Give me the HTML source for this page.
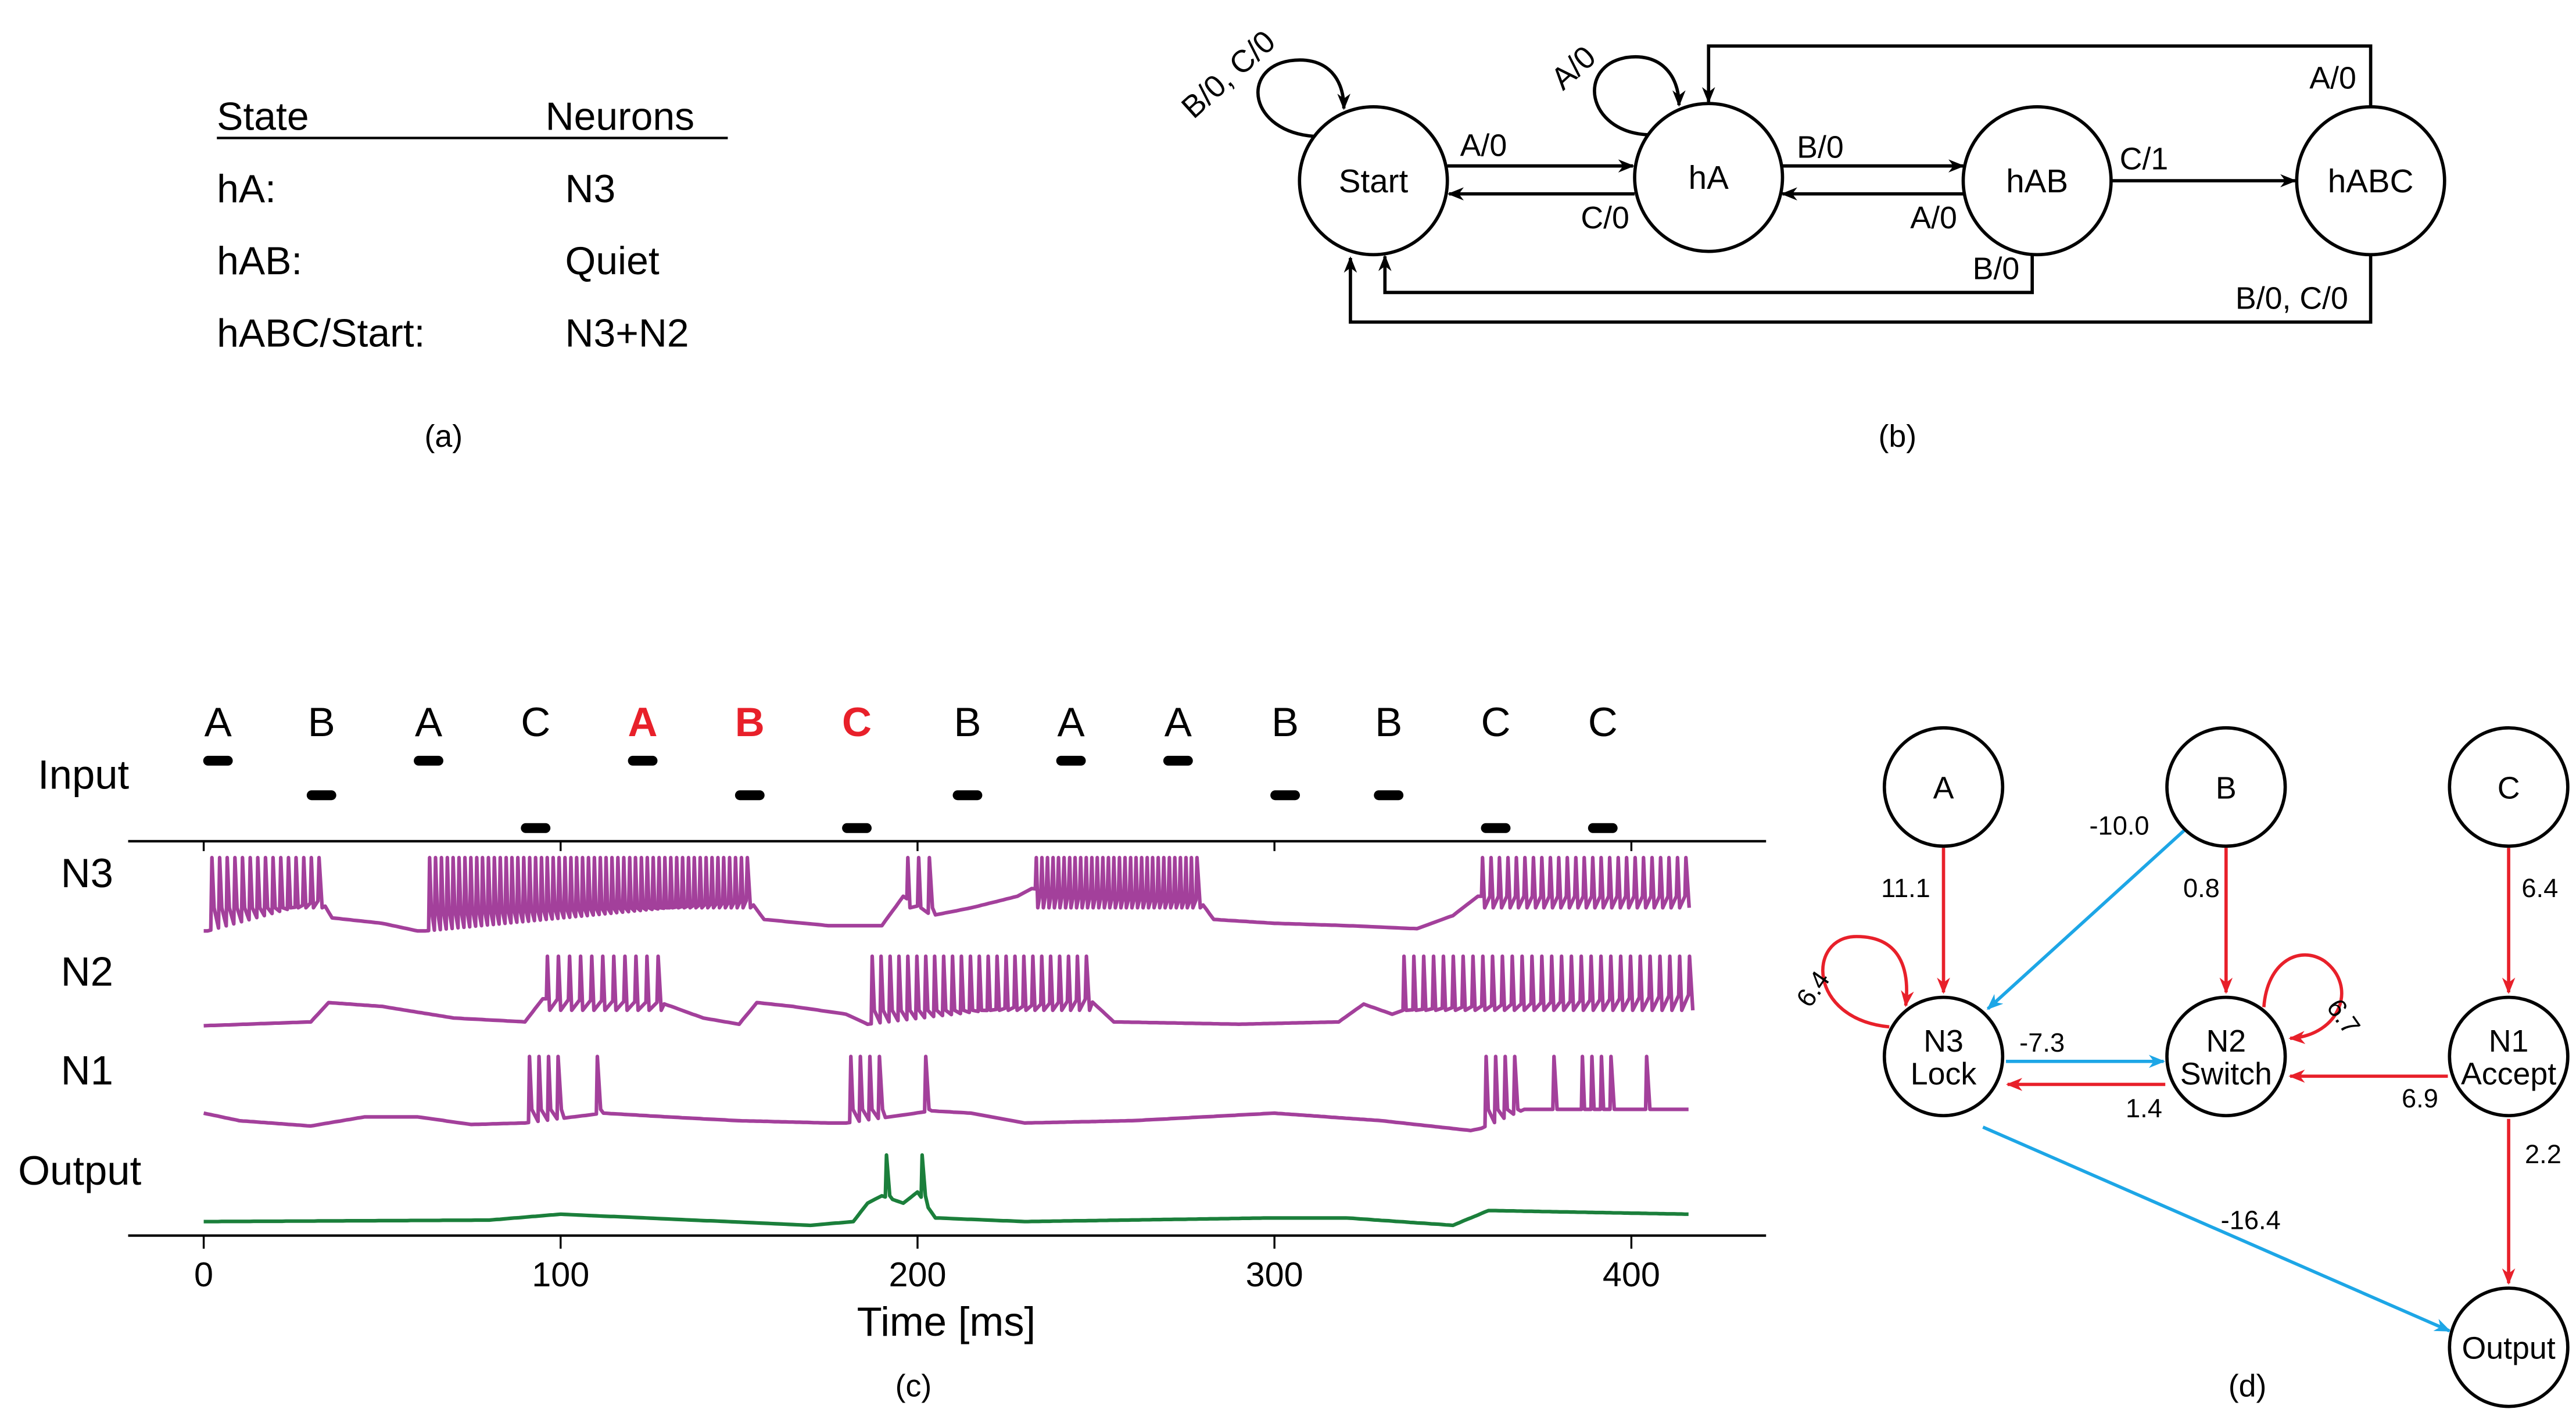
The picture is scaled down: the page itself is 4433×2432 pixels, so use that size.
<!DOCTYPE html>
<html><head><meta charset="utf-8">
<style>
html,body{margin:0;padding:0;background:#fff;}
svg{display:block;font-family:"Liberation Sans",Arial,sans-serif;}
</style></head>
<body>
<svg id="fig" width="4433" height="2432" viewBox="0 0 1568 860" preserveAspectRatio="none" xmlns="http://www.w3.org/2000/svg">
<defs>
<marker id="ak" markerWidth="10" markerHeight="8" refX="9" refY="4" orient="auto" markerUnits="userSpaceOnUse"><path d="M0,0 L10,4 L0,8 L3,4 z" fill="#000"/></marker>
<marker id="ar" markerWidth="10" markerHeight="8" refX="9" refY="4" orient="auto" markerUnits="userSpaceOnUse"><path d="M0,0 L10,4 L0,8 L3,4 z" fill="#e8202a"/></marker>
<marker id="ab" markerWidth="10" markerHeight="8" refX="9" refY="4" orient="auto" markerUnits="userSpaceOnUse"><path d="M0,0 L10,4 L0,8 L3,4 z" fill="#1da6e6"/></marker>
</defs>

<!-- Panel (a) -->
<g font-size="24" fill="#000">
<text x="132" y="79">State</text>
<text x="332" y="79">Neurons</text>
<line x1="132" y1="84" x2="443" y2="84" stroke="#000" stroke-width="1.5"/>
<text x="132" y="123">hA:</text>
<text x="344" y="123">N3</text>
<text x="132" y="167">hAB:</text>
<text x="344" y="167">Quiet</text>
<text x="132" y="211">hABC/Start:</text>
<text x="344" y="211">N3+N2</text>
<text x="270" y="272" font-size="19" text-anchor="middle">(a)</text>
</g>

<!-- Panel (b) -->
<g fill="none" stroke="#000" stroke-width="2">
<circle cx="836" cy="110" r="45"/>
<circle cx="1040" cy="108" r="45"/>
<circle cx="1240" cy="110" r="45"/>
<circle cx="1443" cy="110" r="45"/>
<path d="M800,83 C760,80 755,42 785,37 C805,34 818,45 818,66" marker-end="url(#ak)"/>
<path d="M1003,82 C965,80 960,40 990,35 C1010,32 1022,45 1022,64" marker-end="url(#ak)"/>
<line x1="881" y1="101" x2="994" y2="101" marker-end="url(#ak)"/>
<line x1="995" y1="118" x2="882" y2="118" marker-end="url(#ak)"/>
<line x1="1085" y1="101" x2="1195" y2="101" marker-end="url(#ak)"/>
<line x1="1195" y1="118" x2="1085" y2="118" marker-end="url(#ak)"/>
<line x1="1285" y1="110" x2="1397" y2="110" marker-end="url(#ak)"/>
<path d="M1237,155 L1237,178 L843,178 L843,156" marker-end="url(#ak)"/>
<path d="M1443,155 L1443,196 L822,196 L822,157" marker-end="url(#ak)"/>
<path d="M1443,65 L1443,28 L1040,28 L1040,62" marker-end="url(#ak)"/>
</g>
<g font-size="19" fill="#000">
<text x="836" y="117" text-anchor="middle" font-size="20">Start</text>
<text x="1040" y="115" text-anchor="middle" font-size="20">hA</text>
<text x="1240" y="117" text-anchor="middle" font-size="20">hAB</text>
<text x="1443" y="117" text-anchor="middle" font-size="20">hABC</text>
<text x="752" y="50" transform="rotate(-42 752 50)" text-anchor="middle">B/0, C/0</text>
<text x="962" y="46" transform="rotate(-42 962 46)" text-anchor="middle">A/0</text>
<text x="903" y="95" text-anchor="middle">A/0</text>
<text x="977" y="139" text-anchor="middle">C/0</text>
<text x="1108" y="96" text-anchor="middle">B/0</text>
<text x="1177" y="139" text-anchor="middle">A/0</text>
<text x="1305" y="103" text-anchor="middle">C/1</text>
<text x="1215" y="170" text-anchor="middle">B/0</text>
<text x="1395" y="188" text-anchor="middle">B/0, C/0</text>
<text x="1420" y="54" text-anchor="middle">A/0</text>
<text x="1155" y="272" text-anchor="middle">(b)</text>
</g>

<!-- Panel (c) -->
<g id="traces"></g>

<!-- Panel (d) -->
<g id="net"></g>
</svg>

<script>
var NS="http://www.w3.org/2000/svg";
var svg=document.getElementById('fig');
function mk(tag,attrs,parent){var e=document.createElementNS(NS,tag);for(var k in attrs)e.setAttribute(k,attrs[k]);(parent||svg).appendChild(e);return e;}

// ---------- Panel (c) data ----------
var inputLetters=["A","B","A","C","A","B","C","B","A","A","B","B","C","C"];
var inputTimes=[4,33,63,93,123,153,183,214,243,273,303,332,362,392];
var inputRed=[false,false,false,false,true,true,true,false,false,false,false,false,false,false];
var timeTicks=[0,100,200,300,400];

// bursts: [start, end, spikeCount]
var n3Bursts=[[2,32,15],[63,152,55],[197,203,3],[233,278,30],[358,415,25]];
var n2Bursts=[[96,127,11],[187,247,25],[336,416,30]];
var n1Bursts=[[91,99,4],[110,110,1],[181,189,4],[202,202,1],[359,367,4],[378,378,1],[386,394,4],[404,404,1]];
var outSpikes=[191,201];
// baselines: [time, level] with level 0 = row bottom, 1 = spike peak
var n3Base=[[0,0.05],[1,0.05],[33,0.45],[36,0.22],[50,0.15],[60,0.05],[62,0.05],[153,0.45],[157,0.2],[175,0.12],[190,0.12],[196,0.5],[204,0.25],[215,0.35],[228,0.5],[232,0.6],[279,0.45],[283,0.2],[300,0.15],[320,0.12],[340,0.08],[350,0.25],[357,0.5],[416,0.5]];
var n2Base=[[0,0.1],[30,0.15],[35,0.4],[50,0.35],[70,0.2],[90,0.15],[95,0.45],[128,0.4],[140,0.2],[150,0.12],[155,0.4],[165,0.35],[180,0.25],[186,0.12],[248,0.45],[255,0.15],[290,0.12],[318,0.15],[325,0.38],[333,0.25],[336,0.3],[416,0.5]];
var n1Base=[[0,0.25],[10,0.15],[30,0.08],[45,0.2],[60,0.2],[75,0.1],[90,0.12],[112,0.25],[130,0.2],[150,0.15],[175,0.12],[180,0.12],[204,0.28],[215,0.25],[230,0.12],[260,0.15],[300,0.25],[330,0.15],[355,0.02],[358,0.05],[370,0.3],[380,0.3],[405,0.3],[416,0.3]];
var outBase=[[0,0.1],[80,0.12],[100,0.2],[170,0.05],[182,0.1],[186,0.35],[190,0.45],[196,0.35],[200,0.5],[205,0.15],[230,0.1],[300,0.15],[320,0.15],[350,0.05],[360,0.25],[416,0.2]];

var X0=124, X1=993;
function xs(t){return X0+(X1-X0)*t/400;}
var tg=document.getElementById('traces');

var rowY={A:463,B:484,C:504};
inputLetters.forEach(function(l,i){
  var t=mk('text',{x:xs(inputTimes[i]),y:448,'font-size':25,'text-anchor':'middle',fill:inputRed[i]?'#e8202a':'#000','font-weight':inputRed[i]?'bold':'normal'},tg);
  
  
  t.textContent=l;
  var b=mk('rect',{x:xs(inputTimes[i])-9,y:rowY[l]-3,width:18,height:6,rx:3,fill:'#000'},tg);
  
  
});
function lab(txt,x,y,sz,name){var t=mk('text',{x:x,y:y,'font-size':sz,fill:'#000'},tg);t.textContent=txt;return t;}
lab('Input',23,480,25,'input-label');
lab('N3',37,540,25,'n3-label');
lab('N2',37,600,25,'n2-label');
lab('N1',37,660,25,'n1-label');
lab('Output',11,721,25,'output-label');

var ax1=mk('line',{x1:78,y1:512,x2:1075,y2:512,stroke:'#000','stroke-width':1.5},tg);


var ax2=mk('line',{x1:78,y1:752,x2:1075,y2:752,stroke:'#000','stroke-width':1.5},tg);


timeTicks.forEach(function(v){
  var tk=mk('line',{x1:xs(v),y1:752,x2:xs(v),y2:760,stroke:'#000','stroke-width':1.2},tg);
  
  
  var tk2=mk('line',{x1:xs(v),y1:512,x2:xs(v),y2:518,stroke:'#000','stroke-width':1.2},tg);
  
  
  var tl=mk('text',{x:xs(v),y:783,'font-size':21,'text-anchor':'middle',fill:'#000'},tg);
  
  
  tl.textContent=v;
});
var xt=lab('Time [ms]',576,813,25,'x-axis-title');xt.setAttribute('text-anchor','middle');
var pc=lab('(c)',556,850,19,'panel-c-label');pc.setAttribute('text-anchor','middle');

function baseAt(base,t){
  for(var i=0;i<base.length-1;i++){if(t>=base[i][0]&&t<=base[i+1][0]){var f=(t-base[i][0])/((base[i+1][0]-base[i][0])||1);return base[i][1]+f*(base[i+1][1]-base[i][1]);}}
  return base[base.length-1][1];
}
function trace(base,bursts,spikes,top,bot,trough,color,name){
  var events=[];
  bursts.forEach(function(b){var n=b[2];for(var k=0;k<n;k++){events.push(n>1?b[0]+(b[1]-b[0])*k/(n-1):b[0]);}});
  spikes.forEach(function(s){events.push(s);});
  events.sort(function(a,b){return a-b;});
  function Y(l){return bot-(bot-top)*l;}
  var pts=[];var t=0;var ei=0;
  while(t<=416){
    if(ei<events.length&&events[ei]<=t+0.5){
      var s=events[ei];
      pts.push([xs(s),Y(baseAt(base,s))]);
      pts.push([xs(s+0.3),Y(1)]);
      var next=events[ei+1];
      if(next!==undefined&&next-s<6){pts.push([xs(s+Math.min(0.9,(next-s)*0.45)),Y(trough)]);t=next-0.5;}
      else {pts.push([xs(s+1.2),Y(trough)]);t=s+2;}
      ei++;continue;
    }
    pts.push([xs(t),Y(baseAt(base,t))]);
    t+=1;
  }
  var d='M'+pts.map(function(p){return p[0].toFixed(1)+','+p[1].toFixed(1);}).join(' L');
  var p=mk('path',{d:d,fill:'none',stroke:color,'stroke-width':2.2,'stroke-linejoin':'round'},tg);
  
  
}
trace(n3Base,n3Bursts,[],522,569,0.35,'#a3409b','n3-trace');
trace(n2Base,n2Bursts,[],582,629,0.3,'#a3409b','n2-trace');
trace(n1Base,n1Bursts,[],643,689,0.3,'#a3409b','n1-trace');
trace(outBase,[],outSpikes,703,748,0.45,'#1b7f3b','output-trace');

// ---------- Panel (d) ----------
var net=document.getElementById('net');
var nodes={A:[1183,479,'A'],B:[1355,479,'B'],C:[1527,479,'C'],N3:[1183,643,'N3|Lock'],N2:[1355,643,'N2|Switch'],N1:[1527,643,'N1|Accept'],O:[1527,820,'Output']};
function edge(x1,y1,x2,y2,col,name){var l=mk('line',{x1:x1,y1:y1,x2:x2,y2:y2,stroke:col=='r'?'#e8202a':'#1da6e6','stroke-width':2,'marker-end':col=='r'?'url(#ar)':'url(#ab)'},net);}
edge(1183,516,1183,604,'r','edge-a-n3');
edge(1355,516,1355,604,'r','edge-b-n2');
edge(1527,516,1527,604,'r','edge-c-n1');
edge(1330,505,1210,614,'b','edge-b-n3');
edge(1221,646,1317,646,'b','edge-n3-n2');
edge(1318,660,1222,660,'r','edge-n2-n3');
edge(1490,655,1394,655,'r','edge-n1-n2');
edge(1527,681,1527,781,'r','edge-n1-output');
edge(1207,686,1491,810,'b','edge-n3-output');
var l1=mk('path',{d:'M1150,625 C1100,620 1100,570 1130,570 C1160,570 1162,595 1160,612',fill:'none',stroke:'#e8202a','stroke-width':2,'marker-end':'url(#ar)'},net);

var l2=mk('path',{d:'M1378,613 C1380,585 1400,575 1415,585 C1435,600 1425,630 1394,632',fill:'none',stroke:'#e8202a','stroke-width':2,'marker-end':'url(#ar)'},net);

Object.keys(nodes).forEach(function(k){
  var n=nodes[k];
  var c=mk('circle',{cx:n[0],cy:n[1],r:36,fill:'#fff',stroke:'#000','stroke-width':2},net);
  
  
  var parts=n[2].split('|');
  parts.forEach(function(p,i){
    var y=parts.length==1?n[1]+7:n[1]-3+i*20;
    var t=mk('text',{x:n[0],y:y,'font-size':19,'text-anchor':'middle',fill:'#000'},net);
    
    
    t.textContent=p;
  });
});
var wts=[['11.1',1160,546,0],['0.8',1340,546,0],['6.4',1546,546,0],['-10.0',1290,508,0],['-7.3',1243,640,0],['1.4',1305,680,0],['6.9',1473,674,0],['2.2',1548,708,0],['-16.4',1370,748,0],['6.4',1108,605,-55],['6.7',1422,622,55]];
wts.forEach(function(w){
  var t=mk('text',{x:w[1],y:w[2],'font-size':16,'text-anchor':'middle',fill:'#000',transform:'rotate('+w[3]+' '+w[1]+' '+w[2]+')'},net);
  
  
  t.textContent=w[0];
});
var pd=mk('text',{x:1368,y:850,'font-size':19,'text-anchor':'middle',fill:'#000'},net);


pd.textContent='(d)';
</script>
</body></html>
